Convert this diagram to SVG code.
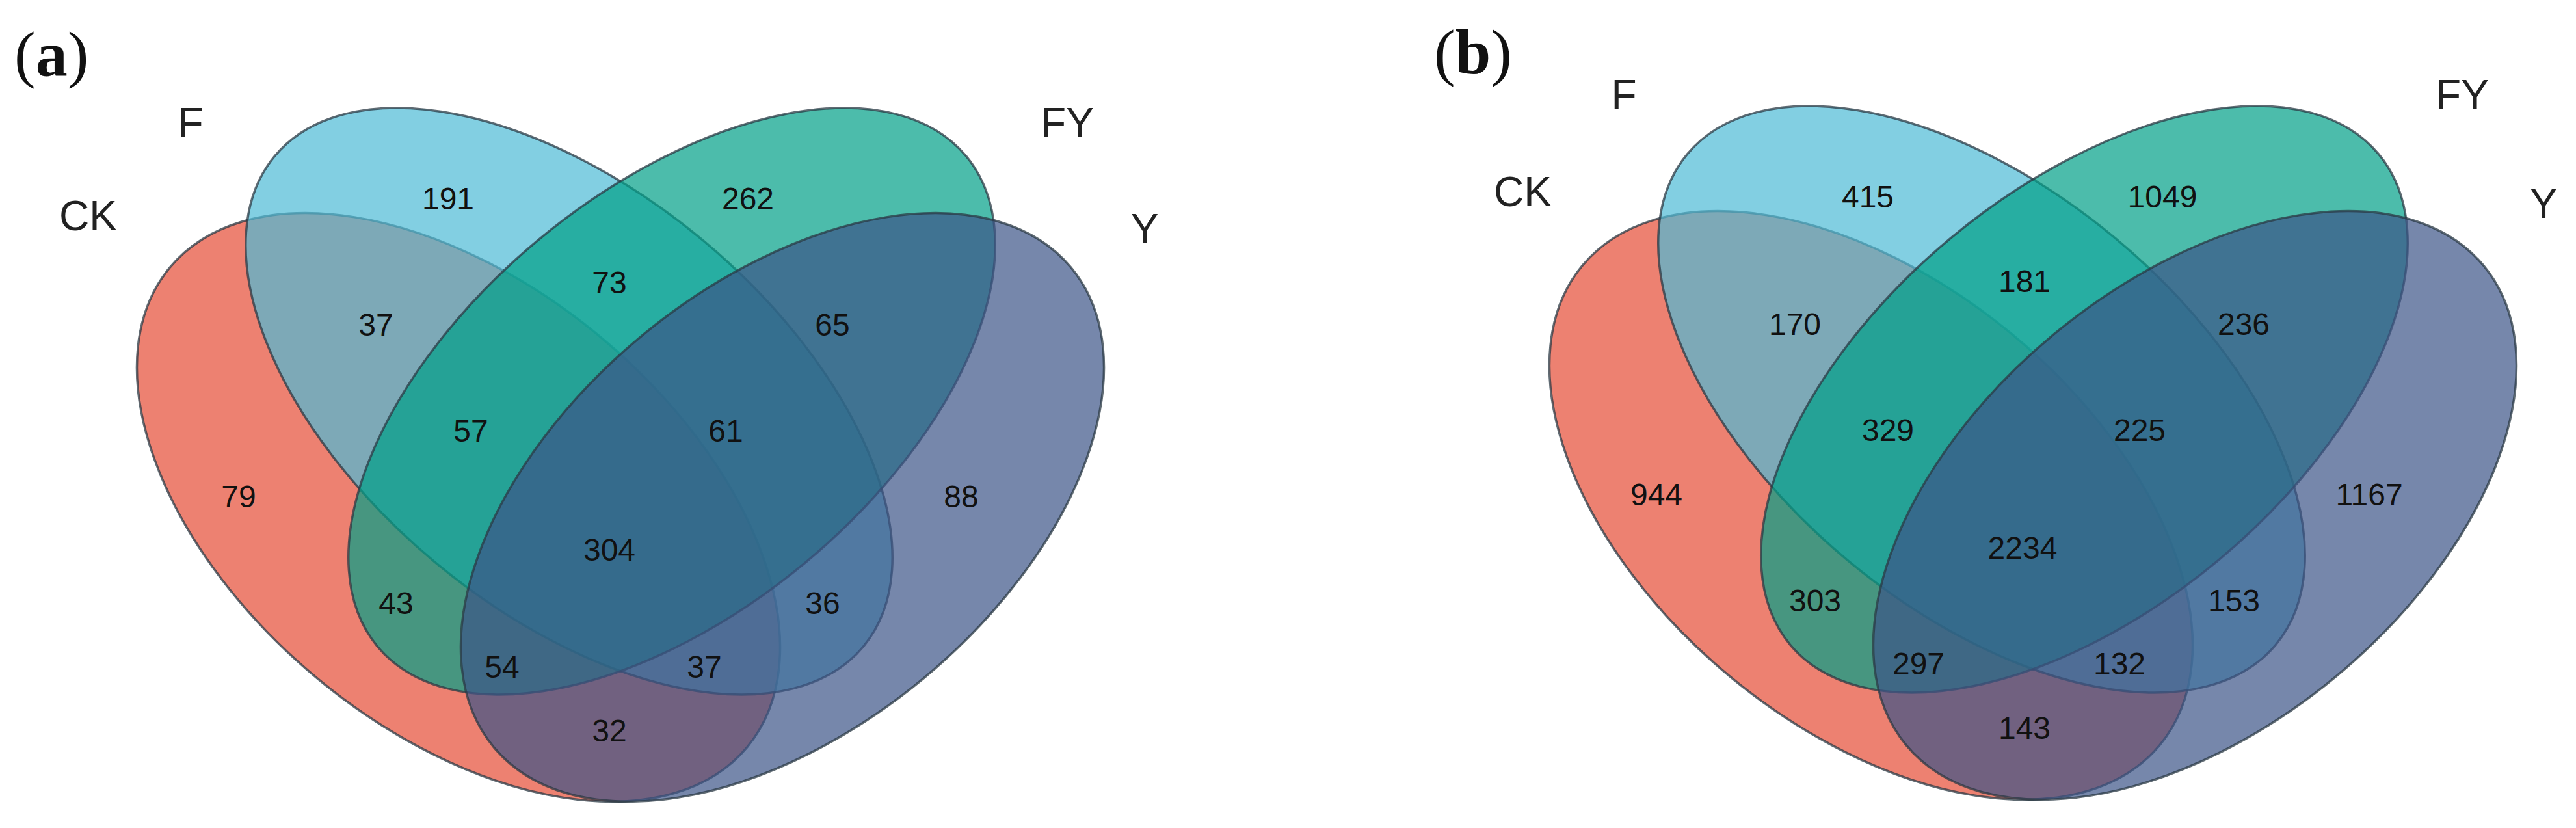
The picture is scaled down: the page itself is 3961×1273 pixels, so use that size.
<svg xmlns="http://www.w3.org/2000/svg" width="3961" height="1273" viewBox="0 0 3961 1273">
<style>
.set{fill-opacity:0.7;stroke:#2b3a44;stroke-width:3.5;stroke-opacity:0.75}
.ck{fill:#E64B35}.f{fill:#4DBBD5}.fy{fill:#00A087}.y{fill:#3C5488}
.lab{font-family:'Liberation Sans',Arial,sans-serif;font-size:64px;fill:#222}
.num{font-family:'Liberation Sans',Arial,sans-serif;font-size:48px;fill:#111;text-anchor:middle}
.pl{font-family:'Liberation Serif','Times New Roman',serif;font-size:98px;fill:#111}
</style>
<rect width="3961" height="1273" fill="#fff"/>
<g id="panel-a">
<text class="pl" x="22" y="116">(<tspan font-weight="bold">a</tspan>)</text>
<g id="a-CK"><ellipse class="set ck" cx="705" cy="780" rx="577" ry="341" transform="rotate(39.7 705 780)"/><text class="lab" x="91" y="354">CK</text></g>
<g id="a-F"><ellipse class="set f" cx="875" cy="617" rx="589" ry="322" transform="rotate(39.8 875 617)"/><text class="lab" x="293" y="211" text-anchor="middle">F</text></g>
<g id="a-FY"><ellipse class="set fy" cx="1033" cy="617" rx="589" ry="322" transform="rotate(-39.8 1033 617)"/><text class="lab" x="1641" y="211" text-anchor="middle">FY</text></g>
<g id="a-Y"><ellipse class="set y" cx="1203" cy="780" rx="577" ry="341" transform="rotate(-39.7 1203 780)"/><text class="lab" x="1760" y="374" text-anchor="middle">Y</text></g>
<g id="a-counts">
<text class="num" x="689" y="322">191</text>
<text class="num" x="1150" y="322">262</text>
<text class="num" x="937" y="451">73</text>
<text class="num" x="578" y="516">37</text>
<text class="num" x="1280" y="516">65</text>
<text class="num" x="724" y="679">57</text>
<text class="num" x="1116" y="679">61</text>
<text class="num" x="367" y="780">79</text>
<text class="num" x="937" y="862">304</text>
<text class="num" x="1478" y="780">88</text>
<text class="num" x="609" y="944">43</text>
<text class="num" x="1265" y="944">36</text>
<text class="num" x="772" y="1042">54</text>
<text class="num" x="1083" y="1042">37</text>
<text class="num" x="937" y="1140">32</text>
</g>
</g>
<g id="panel-b">
<text class="pl" x="2205" y="113">(<tspan font-weight="bold">b</tspan>)</text>
<g id="b-CK"><ellipse class="set ck" cx="2877" cy="777" rx="577" ry="341" transform="rotate(39.7 2877 777)"/><text class="lab" x="2297" y="317">CK</text></g>
<g id="b-F"><ellipse class="set f" cx="3047" cy="614" rx="589" ry="322" transform="rotate(39.8 3047 614)"/><text class="lab" x="2497" y="168" text-anchor="middle">F</text></g>
<g id="b-FY"><ellipse class="set fy" cx="3205" cy="614" rx="589" ry="322" transform="rotate(-39.8 3205 614)"/><text class="lab" x="3786" y="168" text-anchor="middle">FY</text></g>
<g id="b-Y"><ellipse class="set y" cx="3375" cy="777" rx="577" ry="341" transform="rotate(-39.7 3375 777)"/><text class="lab" x="3911" y="335" text-anchor="middle">Y</text></g>
<g id="b-counts">
<text class="num" x="2872" y="319">415</text>
<text class="num" x="3325" y="319">1049</text>
<text class="num" x="3113" y="449">181</text>
<text class="num" x="2760" y="515">170</text>
<text class="num" x="3450" y="515">236</text>
<text class="num" x="2903" y="678">329</text>
<text class="num" x="3290" y="678">225</text>
<text class="num" x="2547" y="777">944</text>
<text class="num" x="3110" y="859">2234</text>
<text class="num" x="3643" y="777">1167</text>
<text class="num" x="2791" y="940">303</text>
<text class="num" x="3435" y="940">153</text>
<text class="num" x="2950" y="1037">297</text>
<text class="num" x="3259" y="1037">132</text>
<text class="num" x="3113" y="1136">143</text>
</g>
</g>
</svg>
